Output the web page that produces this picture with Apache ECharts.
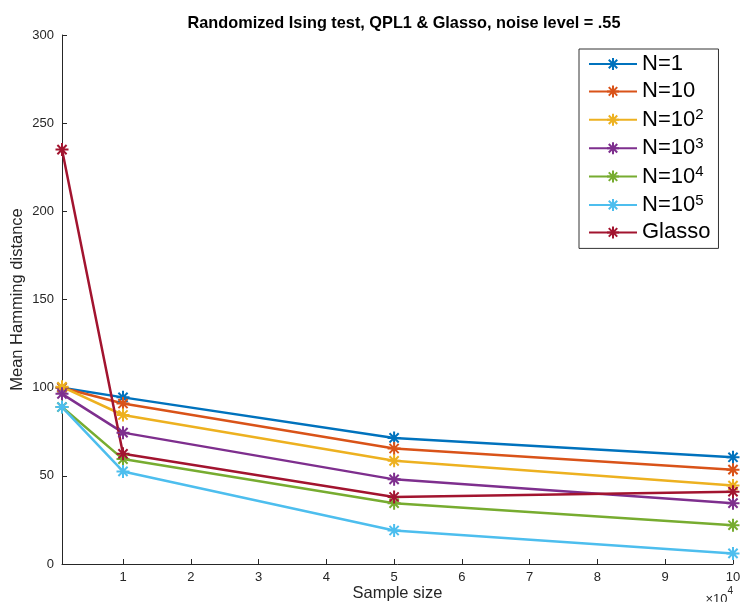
<!DOCTYPE html>
<html>
<head>
<meta charset="utf-8">
<script src="https://cdn.jsdelivr.net/npm/echarts@6/dist/echarts.min.js"></script>
<style>
  html, body { margin: 0; padding: 0; background: #fff; }
  #chart { width: 742px; height: 602px; }
</style>
</head>
<body>
<div id="chart"></div>
<script>
// Sample sizes used in the experiment
const sampleSizes = [1000, 10000, 50000, 100000];
// Tick positions on the x axis (labelled in units of 10^4)
const xTickValues = [10000, 20000, 30000, 40000, 50000, 60000, 70000, 80000, 90000, 100000];

// Mean Hamming distance for each setting
const seriesNames = ['N=1', 'N=10', 'N=10^2', 'N=10^3', 'N=10^4', 'N=10^5', 'Glasso'];
const n1      = [100.0, 94.5, 71.5, 60.5];
const n10     = [100.0, 91.0, 65.5, 53.5];
const n100    = [100.5, 84.5, 58.5, 44.5];
const n1000   = [96.5, 74.5, 48.0, 34.5];
const n10000  = [89.0, 59.5, 34.5, 22.0];
const n100000 = [89.0, 52.5, 19.0, 6.0];
const glasso  = [235.0, 62.5, 38.0, 41.0];
const seriesValues = [n1, n10, n100, n1000, n10000, n100000, glasso];

const colors = ['#0072BD', '#D95319', '#EDB120', '#7E2F8E', '#77AC30', '#4DBEEE', '#A2142F'];

const FONT = '"Liberation Sans", Arial, Helvetica, sans-serif';
const INK = '#262626';

// Eight-spoke asterisk marker
const star = 'path://M0,-10L0,10M-10,0L10,0M-7.07,-7.07L7.07,7.07M-7.07,7.07L7.07,-7.07';

const series = seriesNames.map((name, i) => ({
  name: name,
  type: 'line',
  data: sampleSizes.map((x, j) => [x, seriesValues[i][j]]),
  symbol: star,
  symbolSize: 13,
  symbolKeepAspect: true,
  lineStyle: { color: colors[i], width: 2.5 },
  itemStyle: { color: colors[i], borderColor: colors[i], borderWidth: 2 },
  emphasis: { disabled: true },
  animation: false
}));

// "N=10^3" -> N=10 with a raised exponent
function legendLabel(name) {
  const m = name.match(/^(.*)\^(\d+)$/);
  if (m) return '{b|' + m[1] + '}{s|' + m[2] + '}';
  return '{b|' + name + '}';
}

const chart = echarts.init(document.getElementById('chart'), null, { renderer: 'canvas' });
chart.setOption({
  backgroundColor: '#ffffff',
  animation: false,
  color: colors,
  title: {
    text: 'Randomized Ising test, QPL1 & Glasso, noise level = .55',
    left: 399,
    textAlign: 'center',
    top: 11,
    textStyle: { fontFamily: FONT, fontSize: 16.3, fontWeight: 'bold', color: '#000' }
  },
  grid: { left: 62, right: 9, top: 35, bottom: 38, containLabel: false, outerBoundsMode: 'none' },
  xAxis: {
    type: 'value',
    min: 1000,
    max: 100000,
    name: 'Sample size',
    nameLocation: 'middle',
    nameGap: 21,
    nameMoveOverlap: false,
    nameTextStyle: { fontFamily: FONT, fontSize: 16.5, color: INK },
    axisLine: { lineStyle: { color: INK, width: 1 } },
    axisTick: { inside: true, length: 5, customValues: xTickValues, lineStyle: { color: INK } },
    axisLabel: {
      customValues: xTickValues,
      formatter: v => String(Math.round(v / 10000)),
      fontFamily: FONT, fontSize: 13, color: INK, margin: 7
    },
    splitLine: { show: false }
  },
  yAxis: {
    type: 'value',
    min: 0,
    max: 300,
    interval: 50,
    name: 'Mean Hamming distance',
    nameLocation: 'middle',
    nameGap: 36,
    nameRotate: 90,
    nameMoveOverlap: false,
    nameTextStyle: { fontFamily: FONT, fontSize: 16.5, color: INK },
    axisLine: { show: true, lineStyle: { color: INK, width: 1 } },
    axisTick: { show: true, inside: true, length: 5, lineStyle: { color: INK } },
    axisLabel: { fontFamily: FONT, fontSize: 13, color: INK, margin: 8 },
    splitLine: { show: false }
  },
  legend: {
    orient: 'vertical',
    left: 579,
    top: 49,
    padding: [4, 8, 5, 9],
    itemWidth: 48,
    itemHeight: 15,
    itemGap: 5.4,
    borderColor: '#333',
    borderWidth: 1,
    backgroundColor: '#fff',
    selectedMode: false,
    formatter: legendLabel,
    textStyle: {
      fontFamily: FONT,
      color: '#000',
      rich: {
        b: { fontFamily: FONT, fontSize: 22, lineHeight: 24, color: '#000', verticalAlign: 'middle' },
        s: { fontFamily: FONT, fontSize: 15, lineHeight: 10, color: '#000', verticalAlign: 'top' }
      }
    }
  },
  graphic: [{
    type: 'text',
    x: 733,
    y: 586,
    style: {
      text: '{m|×10}{s|4}',
      align: 'right',
      verticalAlign: 'top',
      rich: {
        m: { fontFamily: FONT, fontSize: 13, lineHeight: 20, fill: INK, verticalAlign: 'bottom' },
        s: { fontFamily: FONT, fontSize: 10, lineHeight: 10, fill: INK, verticalAlign: 'top' }
      }
    }
  }],
  series: series
});
</script>
</body>
</html>
